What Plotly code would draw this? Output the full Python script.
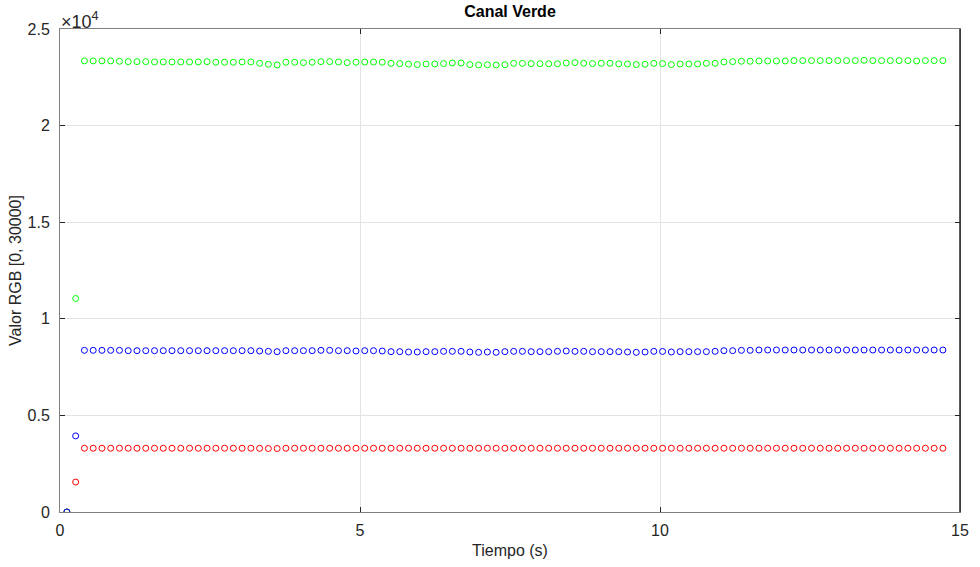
import plotly.graph_objects as go

# Sample times (s)
tiempo = [
    0.115, 0.261, 0.407, 0.553, 0.699, 0.845, 0.991, 1.137, 1.283, 1.429,
    1.575, 1.721, 1.867, 2.013, 2.159, 2.305, 2.451, 2.597, 2.743, 2.889,
    3.035, 3.181, 3.327, 3.473, 3.619, 3.765, 3.911, 4.057, 4.203, 4.349,
    4.495, 4.641, 4.787, 4.933, 5.079, 5.225, 5.371, 5.517, 5.663, 5.809,
    5.955, 6.101, 6.247, 6.393, 6.539, 6.685, 6.831, 6.977, 7.123, 7.269,
    7.415, 7.561, 7.707, 7.853, 7.999, 8.145, 8.291, 8.437, 8.583, 8.729,
    8.875, 9.021, 9.167, 9.313, 9.459, 9.605, 9.751, 9.897, 10.043, 10.189,
    10.335, 10.481, 10.627, 10.773, 10.919, 11.065, 11.211, 11.357, 11.503, 11.649,
    11.795, 11.941, 12.087, 12.233, 12.379, 12.525, 12.671, 12.817, 12.963, 13.109,
    13.255, 13.401, 13.547, 13.693, 13.839, 13.985, 14.131, 14.277, 14.423, 14.569,
    14.715,
]

# Channel readings
rojo = [
    0, 1550, 3300, 3300, 3300, 3300, 3300, 3300, 3300, 3300,
    3300, 3300, 3300, 3300, 3300, 3300, 3300, 3300, 3300, 3300,
    3300, 3300, 3295, 3285, 3285, 3300, 3300, 3300, 3300, 3300,
    3300, 3300, 3300, 3300, 3300, 3300, 3300, 3300, 3300, 3300,
    3300, 3300, 3300, 3300, 3300, 3300, 3300, 3300, 3300, 3300,
    3300, 3300, 3300, 3300, 3300, 3300, 3300, 3300, 3300, 3300,
    3300, 3300, 3300, 3300, 3300, 3300, 3300, 3300, 3300, 3300,
    3300, 3300, 3300, 3300, 3300, 3300, 3300, 3300, 3300, 3300,
    3300, 3300, 3300, 3300, 3300, 3300, 3300, 3300, 3300, 3300,
    3300, 3300, 3300, 3300, 3300, 3300, 3300, 3300, 3300, 3300,
    3300,
]

verde = [
    0, 11050, 23350, 23350, 23350, 23350, 23330, 23310, 23310, 23310,
    23295, 23295, 23295, 23295, 23295, 23295, 23310, 23280, 23280, 23280,
    23295, 23295, 23225, 23175, 23140, 23280, 23280, 23260, 23280, 23310,
    23310, 23295, 23260, 23280, 23290, 23290, 23280, 23220, 23210, 23180,
    23160, 23190, 23190, 23210, 23240, 23240, 23160, 23140, 23150, 23140,
    23150, 23220, 23220, 23210, 23200, 23200, 23200, 23240, 23260, 23230,
    23210, 23225, 23225, 23195, 23190, 23160, 23175, 23220, 23210, 23160,
    23190, 23190, 23190, 23225, 23225, 23295, 23310, 23330, 23330, 23345,
    23345, 23345, 23345, 23365, 23365, 23365, 23365, 23365, 23365, 23365,
    23365, 23380, 23365, 23365, 23365, 23365, 23365, 23345, 23365, 23365,
    23365,
]

azul = [
    0, 3940, 8368, 8368, 8368, 8368, 8368, 8350, 8350, 8350,
    8350, 8350, 8350, 8350, 8350, 8350, 8350, 8350, 8350, 8350,
    8350, 8350, 8333, 8316, 8299, 8350, 8350, 8350, 8350, 8368,
    8368, 8350, 8350, 8335, 8350, 8350, 8333, 8299, 8299, 8282,
    8282, 8299, 8299, 8316, 8316, 8316, 8282, 8264, 8282, 8264,
    8299, 8316, 8316, 8299, 8299, 8299, 8316, 8333, 8316, 8316,
    8299, 8299, 8299, 8299, 8282, 8264, 8282, 8316, 8310, 8282,
    8299, 8299, 8299, 8299, 8316, 8350, 8350, 8368, 8368, 8385,
    8385, 8385, 8385, 8385, 8385, 8385, 8385, 8385, 8385, 8385,
    8385, 8385, 8385, 8385, 8385, 8385, 8385, 8385, 8385, 8385,
    8385,
]

x_ticks = [0, 5, 10, 15]
y_ticks = [0, 5000, 10000, 15000, 20000, 25000]
y_ticktext = ["0", "0.5", "1", "1.5", "2", "2.5"]

FONT = "Liberation Sans, Arial, Helvetica, sans-serif"
AXIS_DARK = "#262626"
AXIS_GRAY = "#808080"

fig = go.Figure()
for serie, color in [(rojo, "#ff0000"), (verde, "#00ff00"), (azul, "#0000ff")]:
    fig.add_trace(go.Scatter(
        x=tiempo, y=serie, mode="markers",
        marker=dict(symbol="circle-open", size=6, color=color,
                    line=dict(width=1, color=color)),
        showlegend=False, hoverinfo="x+y",
    ))

fig.update_layout(
    width=980, height=567,
    margin=dict(l=60, r=11, t=29, b=54),
    paper_bgcolor="white", plot_bgcolor="white",
    font=dict(family=FONT, size=16, color=AXIS_DARK),
    title=dict(text="<b>Canal Verde</b>", x=0.5, xref="paper",
               y=1, yref="container", yanchor="top", pad=dict(t=6),
               font=dict(family=FONT, size=16, color="#000000")),
    xaxis=dict(
        range=[0, 15], tickvals=x_ticks, ticktext=[str(v) for v in x_ticks],
        showgrid=True, gridcolor="#e3e3e3", gridwidth=1,
        zeroline=False, showline=True, linecolor=AXIS_GRAY, linewidth=1,
        mirror="ticks", ticks="inside", ticklen=5, tickcolor=AXIS_DARK,
        ticklabelstandoff=4,
        tickfont=dict(size=16, color=AXIS_DARK),
        title=dict(text="Tiempo (s)", standoff=6,
                   font=dict(size=16, color=AXIS_DARK)),
    ),
    yaxis=dict(
        range=[0, 25000], tickvals=y_ticks, ticktext=y_ticktext,
        showgrid=True, gridcolor="#e3e3e3", gridwidth=1,
        zeroline=False, showline=True, linecolor=AXIS_GRAY, linewidth=1,
        mirror="ticks", ticks="inside", ticklen=5, tickcolor=AXIS_DARK,
        ticklabelstandoff=6,
        tickfont=dict(size=16, color=AXIS_DARK),
        title=dict(text="Valor RGB [0, 30000]", standoff=1,
                   font=dict(size=16, color=AXIS_DARK)),
    ),
)

# Dark right-hand border of the axes box
fig.add_shape(type="line", xref="paper", yref="paper", x0=1, x1=1, y0=0, y1=1,
              line=dict(color=AXIS_DARK, width=1.5))

# Exponent marker for the y tick labels
fig.add_annotation(text="×10<sup>4</sup>", xref="paper", yref="paper",
                   x=0, y=1, xanchor="left", yanchor="bottom", showarrow=False,
                   font=dict(family=FONT, size=18, color=AXIS_DARK),
                   xshift=-1, yshift=-5)

fig.write_html("out.html")
